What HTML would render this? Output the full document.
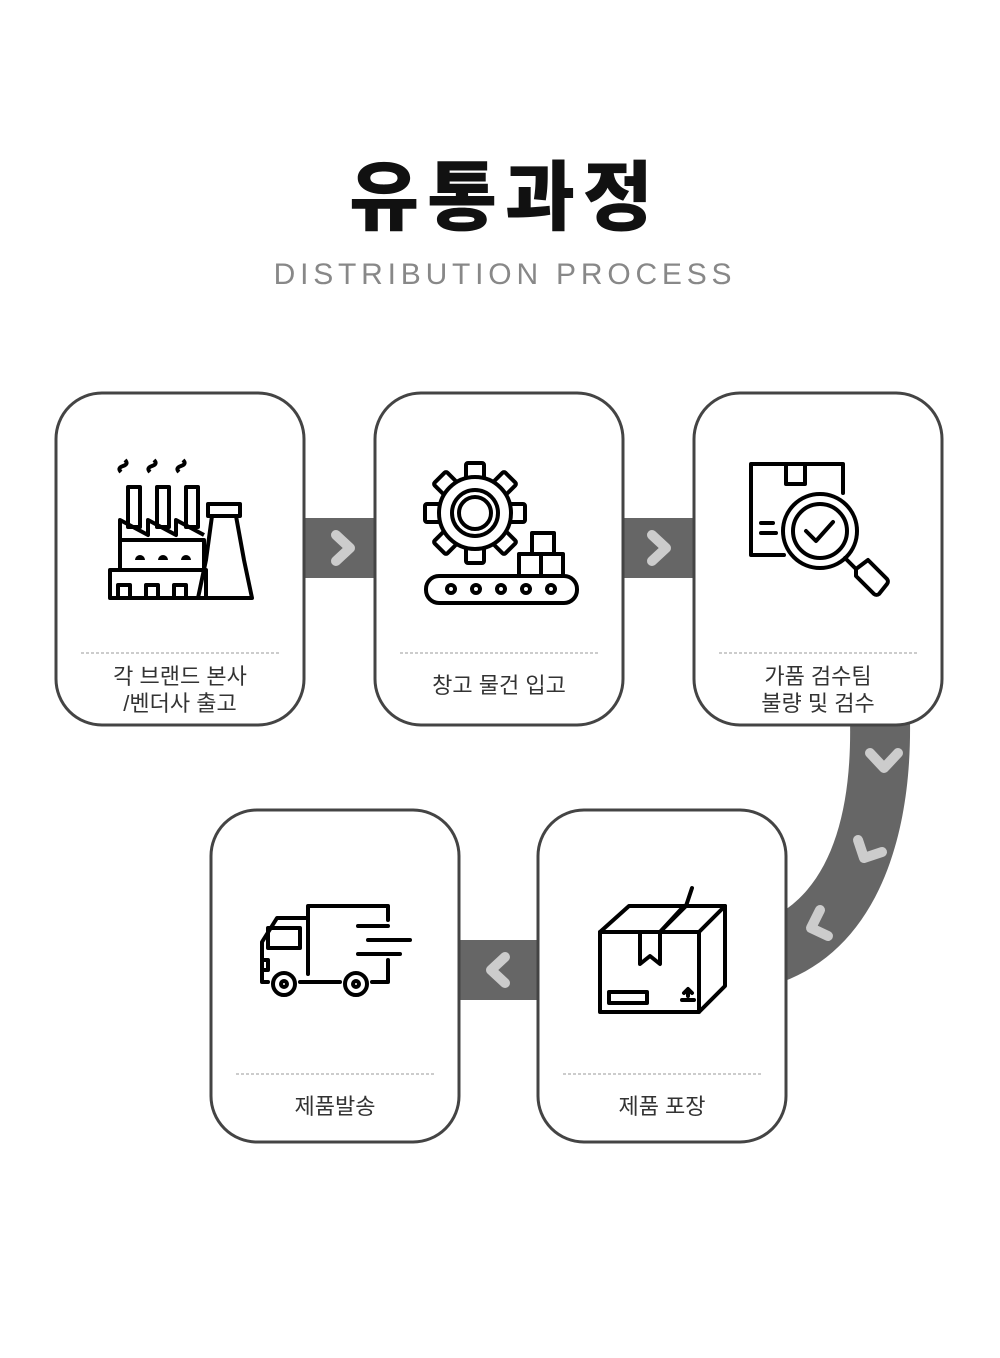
<!DOCTYPE html>
<html><head><meta charset="utf-8"><style>
html,body{margin:0;padding:0;background:#fff;}
svg{display:block}
text{font-family:"Liberation Sans","Noto Sans CJK KR",sans-serif;}
</style></head><body>
<svg width="1000" height="1358" viewBox="0 0 1000 1358" xmlns="http://www.w3.org/2000/svg">
<text x="505" y="224" text-anchor="middle" font-size="76" fill="#111" letter-spacing="8" style="font-family:'Noto Sans CJK KR',sans-serif;font-weight:900">유통과정</text>
<text x="505" y="284" text-anchor="middle" font-size="30" fill="#888" letter-spacing="4.8">DISTRIBUTION PROCESS</text>

<g fill="#666">
<rect x="300" y="518" width="80" height="60"/>
<rect x="620" y="518" width="78" height="60"/>
<rect x="455" y="940" width="88" height="60"/>
<path d="M850,720 L910,720 C912,850 870,950 782,982 L782,912 C832,880 852,810 850,720 Z"/>
</g>
<g fill="none" stroke="#ccc" stroke-width="10" stroke-linecap="round" stroke-linejoin="round">
<path d="M336,535 L350,548 L336,561"/>
<path d="M652,535 L666,548 L652,561"/>
<path d="M505,957 L491,970 L505,983"/>
<path d="M870,753 L884,768 L898,753"/>
<path d="M858,840 L864,858 L882,852"/>
<path d="M820,910 L811,928 L828,936"/>
</g>

<g fill="#fff" stroke="#444" stroke-width="3">
<rect x="56" y="393" width="248" height="332" rx="46"/>
<rect x="375" y="393" width="248" height="332" rx="46"/>
<rect x="694" y="393" width="248" height="332" rx="46"/>
<rect x="211" y="810" width="248" height="332" rx="46"/>
<rect x="538" y="810" width="248" height="332" rx="46"/>
</g>
<g stroke="#999" stroke-width="1" stroke-dasharray="3,2">
<line x1="81" y1="653" x2="280" y2="653"/>
<line x1="400" y1="653" x2="599" y2="653"/>
<line x1="719" y1="653" x2="918" y2="653"/>
<line x1="236" y1="1074" x2="435" y2="1074"/>
<line x1="563" y1="1074" x2="762" y2="1074"/>
</g>
<g font-size="22" fill="#333" text-anchor="middle">
<text x="180" y="684">각 브랜드 본사</text>
<text x="180" y="711">/벤더사 출고</text>
<text x="499" y="693">창고 물건 입고</text>
<text x="818" y="684">가품 검수팀</text>
<text x="818" y="711">불량 및 검수</text>
<text x="335" y="1114">제품발송</text>
<text x="662" y="1114">제품 포장</text>
</g>

<g fill="none" stroke="#000" stroke-width="4" stroke-linejoin="round">
<path d="M121,472 q-4,-4 2,-6 q6,-2 2,-6 M150,472 q-4,-4 2,-6 q6,-2 2,-6 M179,472 q-4,-4 2,-6 q6,-2 2,-6"/>
<rect x="128" y="487" width="12" height="40"/><rect x="157" y="487" width="12" height="40"/><rect x="186" y="487" width="12" height="40"/>
<path d="M120,540 L120,520 L148,535 L148,520 L176,535 L176,520 L204,535 M120,540 L204,540"/>
<rect x="120" y="540" width="84" height="30"/>
<rect x="110" y="570" width="96" height="28"/>
<path d="M208,504 L240,504 L240,516 L208,516 Z M212,516 L206,560 L198,598 L252,598 L244,560 L236,516"/>
<path d="M118,598 V585 H130 V598 M146,598 V585 H158 V598 M174,598 V585 H186 V598"/>
</g>
<g fill="#000"><path d="M135,560 a5,5 0 0 1 10,0 z M158,560 a5,5 0 0 1 10,0 z M181,560 a5,5 0 0 1 10,0 z"/></g>

<g fill="none" stroke="#000" stroke-width="4" stroke-linejoin="round">
<g transform="translate(475,513)">
<rect x="-9" y="-50" width="18" height="20" rx="2"/>
<rect x="-9" y="-50" width="18" height="20" rx="2" transform="rotate(45)"/>
<rect x="-9" y="-50" width="18" height="20" rx="2" transform="rotate(90)"/>
<rect x="-9" y="-50" width="18" height="20" rx="2" transform="rotate(135)"/>
<rect x="-9" y="-50" width="18" height="20" rx="2" transform="rotate(180)"/>
<rect x="-9" y="-50" width="18" height="20" rx="2" transform="rotate(225)"/>
<rect x="-9" y="-50" width="18" height="20" rx="2" transform="rotate(270)"/>
<rect x="-9" y="-50" width="18" height="20" rx="2" transform="rotate(315)"/>
<circle r="36" fill="#fff"/>
<circle r="23"/><circle r="16"/>
</g>
<rect x="426" y="576" width="151" height="27" rx="13" fill="#fff"/>
<rect x="519" y="554" width="22" height="22" fill="#fff"/><rect x="541" y="554" width="22" height="22" fill="#fff"/>
<rect x="532" y="533" width="22" height="21" fill="#fff"/>
<circle cx="451" cy="589" r="4"/><circle cx="476" cy="589" r="4"/><circle cx="501" cy="589" r="4"/><circle cx="526" cy="589" r="4"/><circle cx="551" cy="589" r="4"/>
</g>

<g fill="none" stroke="#000" stroke-width="4" stroke-linejoin="round" stroke-linecap="round">
<path d="M784,555 H751 V464 H843 V493"/>
<path d="M786,464 V484 H805 V464"/>
<path d="M761,523 H773 M761,533 H776"/>
<circle cx="820" cy="531" r="37" fill="#fff"/>
<circle cx="820" cy="531" r="27"/>
<path d="M806,531 L816,541 L833,522"/>
<path d="M845,558 L856,569"/>
<path d="M856,569 L868,560 L887,579 a4,4 0 0 1 0,5 L879,594 a4,4 0 0 1 -5,0 L856,576 z"/>
</g>

<g fill="none" stroke="#000" stroke-width="4" stroke-linejoin="round" stroke-linecap="round">
<path d="M308,974 V906 H388 V920"/>
<path d="M388,960 V982 H372"/>
<path d="M340,982 H300"/>
<path d="M268,982 H262 V942 L277,918 H308"/>
<rect x="268" y="928" width="32" height="20"/>
<path d="M262,960 H268 V970 H262"/>
<circle cx="284" cy="984" r="11" fill="#fff"/><circle cx="284" cy="984" r="3"/>
<circle cx="356" cy="984" r="11" fill="#fff"/><circle cx="356" cy="984" r="3"/>
<path d="M358,926 H388 M368,940 H410 M358,954 H400"/>
</g>

<g fill="none" stroke="#000" stroke-width="4" stroke-linejoin="round" stroke-linecap="round">
<path d="M600,932 L629,906 H725 L699,932 Z"/>
<path d="M600,932 V1012 H699 V932 M699,1012 L725,986 V906"/>
<path d="M640,932 V964 L650,956 L660,964 V932 L686,906 L692,888"/>
<path d="M660,932 L684,906"/>
<rect x="609" y="992" width="38" height="11"/>
<path d="M682,1000 H694 M688,996 V990 M684,993 L688,989 L692,993"/>
</g>
</svg>
</body></html>
